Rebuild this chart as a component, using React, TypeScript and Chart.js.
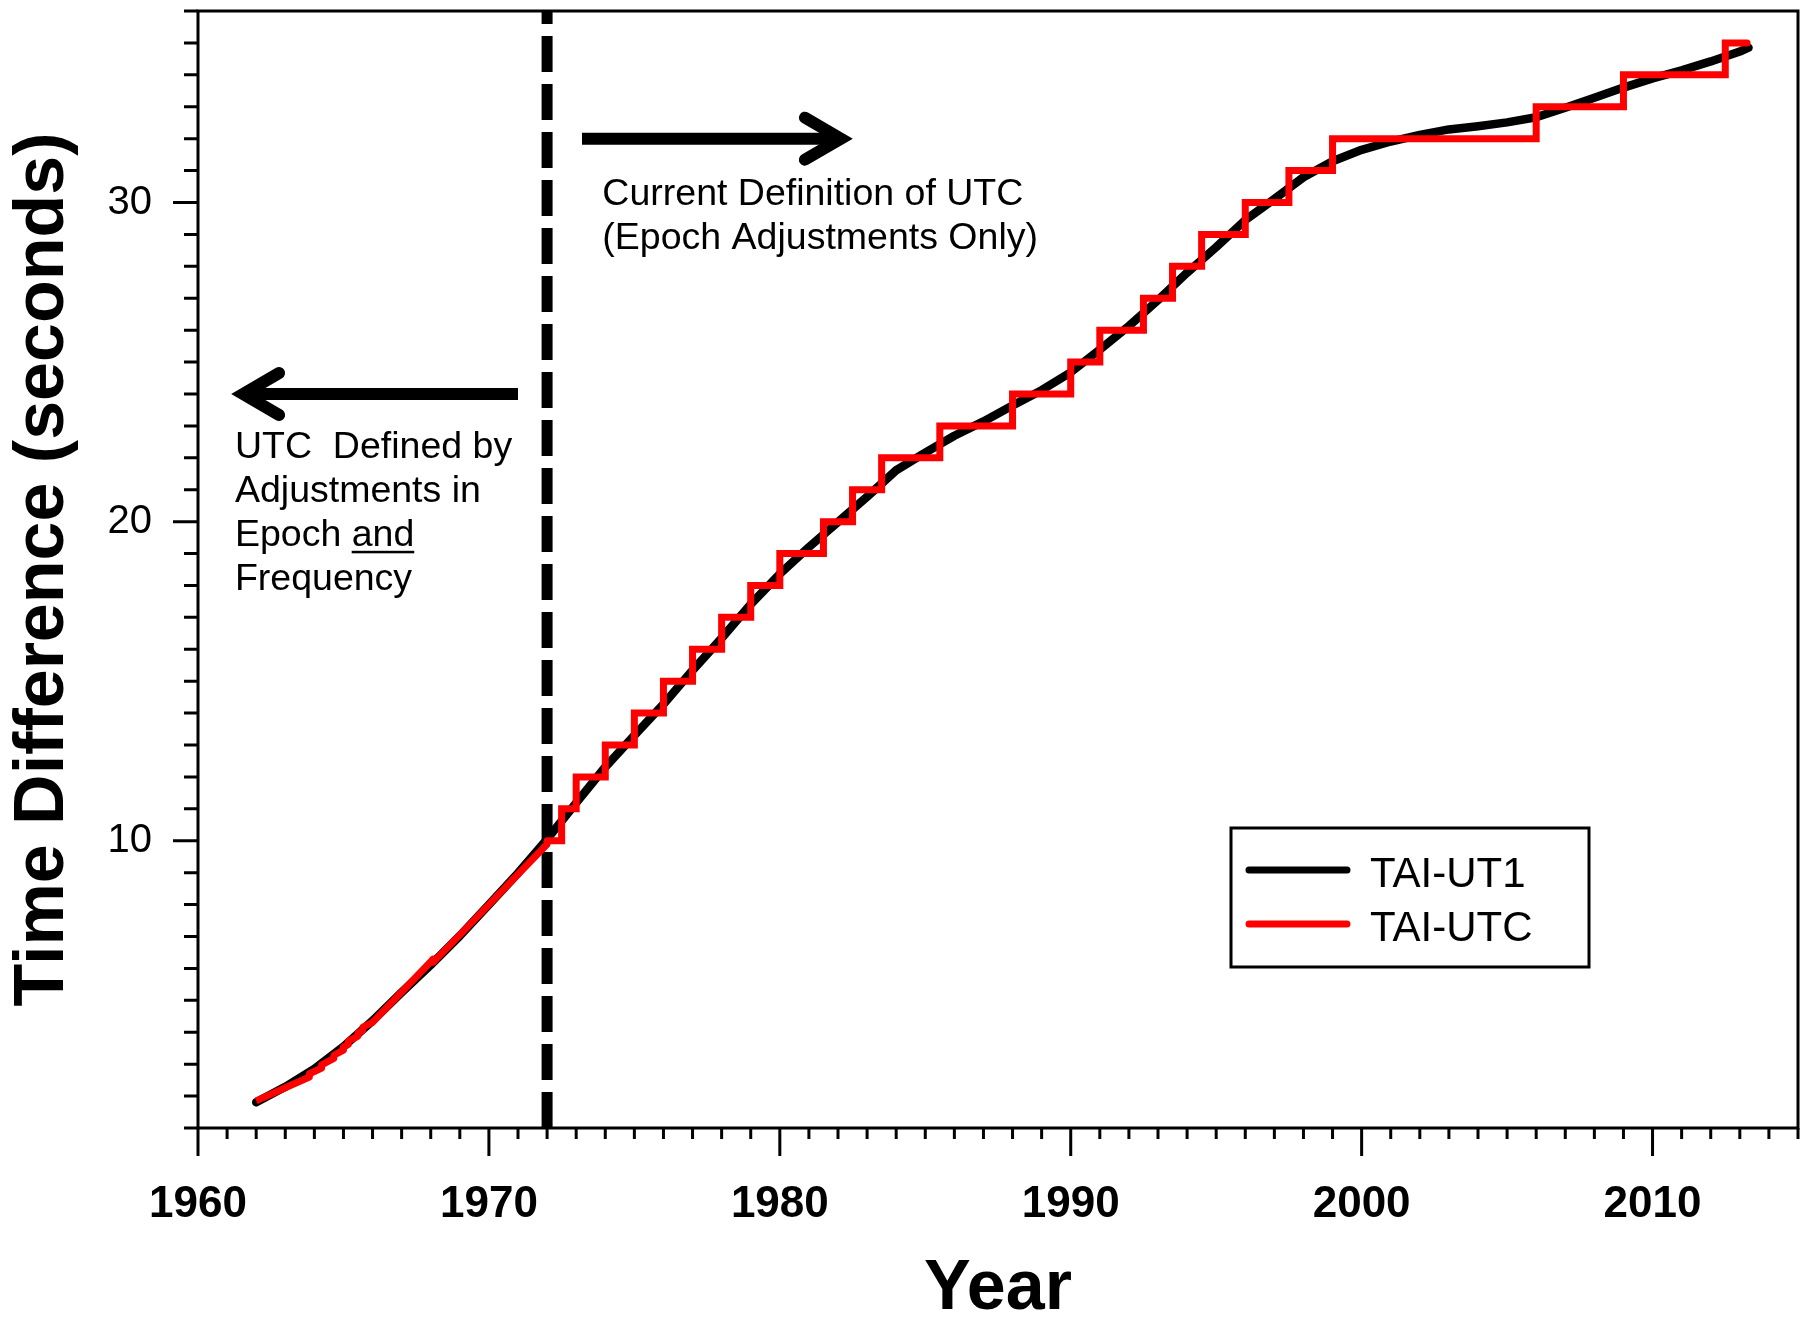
import React, { useEffect, useRef } from "react";
import { Chart, registerables } from "chart.js";

Chart.register(...registerables);

// ---------- axis ranges & tick labels ----------
const X_MIN = 1960;
const X_MAX = 2015;
const Y_MIN = 1;
const Y_MAX = 36;
const YEAR_TICKS = [1960, 1970, 1980, 1990, 2000, 2010];
const SECOND_TICKS = [10, 20, 30];

// ---------- TAI-UT1 (black) ----------
const UT1_YEARS = [
  1962, 1963, 1964, 1965, 1966, 1967, 1968, 1969, 1970, 1971,
  1972, 1973, 1974, 1975, 1976, 1977, 1978, 1979, 1980, 1981,
  1982, 1983, 1984, 1985, 1986, 1987, 1988, 1989, 1990, 1991,
  1992, 1993, 1994, 1995, 1996, 1997, 1998, 1999, 2000, 2001,
  2002, 2003, 2004, 2005, 2006, 2007, 2008, 2009, 2010, 2011,
  2012, 2013, 2013.3,
];
const UT1_SECONDS = [
  1.81, 2.29, 2.85, 3.55, 4.36, 5.25, 6.11, 7.02, 8.0, 8.99,
  10.05, 11.19, 12.31, 13.3, 14.28, 15.34, 16.35, 17.41, 18.36, 19.2,
  19.99, 20.78, 21.61, 22.16, 22.69, 23.14, 23.64, 24.12, 24.68, 25.39,
  26.13, 26.94, 27.8, 28.6, 29.45, 30.11, 30.79, 31.29, 31.65, 31.91,
  32.12, 32.29, 32.39, 32.51, 32.67, 32.97, 33.28, 33.6, 33.89, 34.14,
  34.42, 34.73, 34.85,
];

// ---------- TAI-UTC before 1972 (red, epoch + frequency adjustments) ----------
const UTC_EARLY_YEARS = [
  1962.0, 1963.0, 1963.83, 1963.83, 1964.0, 1964.25, 1964.25, 1964.67, 1964.67,
  1965.0, 1965.0, 1965.17, 1965.17, 1965.5, 1965.5, 1965.67, 1965.67, 1966.0,
  1967.0, 1968.0, 1968.08, 1968.08, 1969.0, 1970.0, 1971.0, 1972.0, 1972.0,
];
const UTC_EARLY_SECONDS = [
  1.85, 2.26, 2.6, 2.7, 2.77, 2.88, 2.98, 3.18, 3.28,
  3.44, 3.54, 3.62, 3.72, 3.88, 3.98, 4.06, 4.16, 4.31,
  5.26, 6.21, 6.29, 6.19, 7.05, 8.0, 8.95, 9.89, 10.0,
];

// ---------- TAI-UTC from 1972 (red, leap seconds only) ----------
const LEAP_YEARS = [
  1972.0, 1972.5, 1973.0, 1974.0, 1975.0, 1976.0, 1977.0, 1978.0, 1979.0, 1980.0,
  1981.5, 1982.5, 1983.5, 1985.5, 1988.0, 1990.0, 1991.0, 1992.5, 1993.5, 1994.5,
  1996.0, 1997.5, 1999.0, 2006.0, 2009.0, 2012.5, 2013.25,
];
const LEAP_SECONDS = [
  10, 11, 12, 13, 14, 15, 16, 17, 18, 19,
  20, 21, 22, 23, 24, 25, 26, 27, 28, 29,
  30, 31, 32, 33, 34, 35, 35,
];

// ---------- definition boundary ----------
const BOUNDARY_YEAR = 1972;

// ---------- annotations (data coordinates) ----------
const RIGHT_ARROW = { from: 1973.2, to: 1982.1, at: 32 };
const LEFT_ARROW = { from: 1971.0, to: 1961.55, at: 24 };
const RIGHT_NOTE = { x: 1973.9, y: 29.93, lines: ["Current Definition of UTC", "(Epoch Adjustments Only)"] };
const LEFT_NOTE = { x: 1961.27, y: 22.0, lines: ["UTC  Defined by", "Adjustments in", "Epoch and", "Frequency"] };
const LEFT_NOTE_UNDERLINE = { line: 2, before: "Epoch ", word: "and" };

const LEGEND_ORDER = ["TAI-UT1", "TAI-UTC"];

const FONT = "'Liberation Sans', Arial, Helvetica, sans-serif";

const pts = (xs: number[], ys: number[]) => xs.map((x, i) => ({ x, y: ys[i] }));

const decorPlugin = {
  id: "decor",
  afterDraw(chart: any) {
    const { ctx, chartArea: a, scales } = chart;
    const xs = scales.x;
    const ys = scales.y;
    ctx.save();

    // frame
    ctx.strokeStyle = "#000";
    ctx.lineWidth = 3;
    ctx.lineCap = "butt";
    ctx.strokeRect(a.left, a.top, a.right - a.left, a.bottom - a.top);

    // tick marks (major + minor)
    ctx.beginPath();
    for (let v = X_MIN; v <= X_MAX; v++) {
      const px = xs.getPixelForValue(v);
      const len = YEAR_TICKS.includes(v) ? 28 : 11;
      ctx.moveTo(px, a.bottom);
      ctx.lineTo(px, a.bottom + len);
    }
    for (let v = Y_MIN; v <= Y_MAX; v++) {
      const py = ys.getPixelForValue(v);
      const len = SECOND_TICKS.includes(v) ? 25 : 14;
      ctx.moveTo(a.left, py);
      ctx.lineTo(a.left - len, py);
    }
    ctx.stroke();

    // arrows
    const drawArrow = (arrow: { from: number; to: number; at: number }) => {
      const x0 = xs.getPixelForValue(arrow.from);
      const x1 = xs.getPixelForValue(arrow.to);
      const y = ys.getPixelForValue(arrow.at);
      const dir = Math.sign(x1 - x0);
      ctx.lineWidth = 12;
      ctx.lineCap = "butt";
      ctx.beginPath();
      ctx.moveTo(x0, y);
      ctx.lineTo(x1 - dir * 4, y);
      ctx.stroke();
      ctx.lineCap = "round";
      ctx.lineJoin = "miter";
      ctx.miterLimit = 10;
      ctx.beginPath();
      ctx.moveTo(x1 - dir * 36, y - 21);
      ctx.lineTo(x1, y);
      ctx.lineTo(x1 - dir * 36, y + 21);
      ctx.stroke();
    };
    drawArrow(RIGHT_ARROW);
    drawArrow(LEFT_ARROW);

    // notes
    ctx.fillStyle = "#000";
    ctx.font = `37.5px ${FONT}`;
    ctx.textAlign = "left";
    ctx.textBaseline = "alphabetic";
    const lh = 44;
    const drawNote = (note: { x: number; y: number; lines: string[] }) => {
      const x = xs.getPixelForValue(note.x);
      const y = ys.getPixelForValue(note.y);
      note.lines.forEach((t, i) => ctx.fillText(t, x, y + i * lh));
      return { x, y };
    };
    drawNote(RIGHT_NOTE);
    const ln = drawNote(LEFT_NOTE);
    const ux = ln.x + ctx.measureText(LEFT_NOTE_UNDERLINE.before).width;
    const uw = ctx.measureText(LEFT_NOTE_UNDERLINE.word).width;
    const uy = ln.y + LEFT_NOTE_UNDERLINE.line * lh + 5;
    ctx.fillRect(ux, uy, uw, 2.5);

    // legend box
    const bx = a.right - 567;
    const by = a.bottom - 300;
    ctx.lineWidth = 3;
    ctx.strokeStyle = "#000";
    ctx.strokeRect(bx, by, 358, 139);
    ctx.font = `42px ${FONT}`;
    LEGEND_ORDER.forEach((label, i) => {
      const ds = chart.data.datasets.find((d: any) => d.label === label);
      if (!ds) return;
      const rowY = by + 42 + i * 54;
      ctx.strokeStyle = ds.borderColor;
      ctx.lineWidth = 7;
      ctx.lineCap = "round";
      ctx.beginPath();
      ctx.moveTo(bx + 18, rowY);
      ctx.lineTo(bx + 116, rowY);
      ctx.stroke();
      ctx.fillStyle = "#000";
      ctx.fillText(label, bx + 139, rowY + 17);
    });

    ctx.restore();
  },
};

export default function App() {
  const canvasRef = useRef<HTMLCanvasElement | null>(null);

  useEffect(() => {
    if (!canvasRef.current) return;
    const chart = new Chart(canvasRef.current, {
      type: "line",
      data: {
        datasets: [
          {
            label: "TAI-UTC",
            data: pts(LEAP_YEARS, LEAP_SECONDS),
            borderColor: "#ff0000",
            borderWidth: 7,
            stepped: true,
            pointRadius: 0,
            borderJoinStyle: "miter",
            borderCapStyle: "round",
            order: 0,
          },
          {
            label: "TAI-UTC (pre-1972)",
            data: pts(UTC_EARLY_YEARS, UTC_EARLY_SECONDS),
            borderColor: "#ff0000",
            borderWidth: 7,
            pointRadius: 0,
            tension: 0,
            borderJoinStyle: "round",
            borderCapStyle: "butt",
            order: 1,
          },
          {
            label: "TAI-UT1",
            data: pts(UT1_YEARS, UT1_SECONDS),
            borderColor: "#000000",
            borderWidth: 8.5,
            pointRadius: 0,
            tension: 0,
            borderJoinStyle: "round",
            borderCapStyle: "round",
            order: 2,
          },
          {
            label: "1972",
            data: [
              { x: BOUNDARY_YEAR, y: Y_MIN },
              { x: BOUNDARY_YEAR, y: Y_MAX },
            ],
            borderColor: "#000000",
            borderWidth: 11,
            borderDash: [36, 12],
            borderCapStyle: "butt",
            pointRadius: 0,
            order: 3,
          },
        ],
      } as any,
      options: {
        responsive: false,
        animation: false,
        devicePixelRatio: 1,
        layout: { padding: { left: 0, right: 15, top: 11, bottom: 0 } },
        plugins: {
          legend: { display: false },
          tooltip: { enabled: false },
        },
        scales: {
          x: {
            type: "linear",
            min: X_MIN,
            max: X_MAX,
            afterBuildTicks: (s: any) => {
              s.ticks = YEAR_TICKS.map((v) => ({ value: v }));
            },
            afterFit: (s: any) => {
              s.height = 197;
              s.paddingLeft = 0;
              s.paddingRight = 0;
            },
            grid: { display: false, drawTicks: false },
            border: { display: false },
            ticks: {
              autoSkip: false,
              maxRotation: 0,
              padding: 55,
              color: "#000",
              font: { family: FONT, size: 44, weight: "bold", lineHeight: 1 },
              callback: (v: any) => String(v),
            },
            title: {
              display: true,
              text: "Year",
              color: "#000",
              font: { family: FONT, size: 70, weight: "bold", lineHeight: 1 },
              padding: { top: 0, bottom: 0 },
            },
          },
          y: {
            type: "linear",
            min: Y_MIN,
            max: Y_MAX,
            afterBuildTicks: (s: any) => {
              s.ticks = SECOND_TICKS.map((v) => ({ value: v }));
            },
            afterFit: (s: any) => {
              s.width = 198;
              s.paddingTop = 0;
              s.paddingBottom = 0;
            },
            grid: { display: false, drawTicks: false },
            border: { display: false },
            ticks: {
              padding: 46,
              color: "#000",
              font: { family: FONT, size: 40, weight: "normal", lineHeight: 1 },
              callback: (v: any) => String(v),
            },
            title: {
              display: true,
              text: "Time Difference (seconds)",
              color: "#000",
              font: { family: FONT, size: 70, weight: "bold", lineHeight: 1 },
              padding: { top: 9, bottom: 0 },
            },
          },
        },
      } as any,
      plugins: [decorPlugin],
    });
    return () => chart.destroy();
  }, []);

  return (
    <div style={{ position: "absolute", left: 0, top: 0, width: 1813, height: 1325, background: "#fff" }}>
      <canvas ref={canvasRef} width={1813} height={1325} style={{ display: "block" }} />
    </div>
  );
}
